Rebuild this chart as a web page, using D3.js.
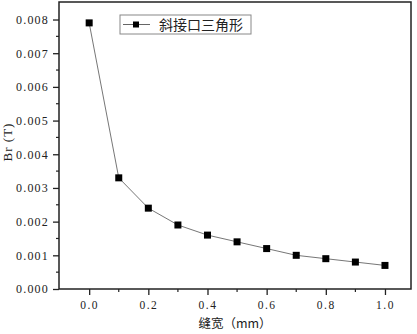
<!DOCTYPE html>
<html>
<head>
<meta charset="utf-8">
<script src="https://cdn.jsdelivr.net/npm/d3@7"></script>
<style>
  body { margin: 0; background: #fff; }
  svg text { fill: #222; }
  .tick text { font-family: "Liberation Serif", "DejaVu Serif", serif !important; }
</style>
</head>
<body>
<div id="chart"></div>
<script>
// data
var slotWidth = [0.0, 0.1, 0.2, 0.3, 0.4, 0.5, 0.6, 0.7, 0.8, 0.9, 1.0];
var brValues = [0.0079, 0.0033, 0.0024, 0.0019, 0.0016, 0.0014, 0.0012, 0.0010, 0.0009, 0.0008, 0.0007];
var seriesName = "斜接口三角形";
var xTicks = [0.0, 0.2, 0.4, 0.6, 0.8, 1.0];
var yTicks = [0.000, 0.001, 0.002, 0.003, 0.004, 0.005, 0.006, 0.007, 0.008];

function init() {
    var w = 417,
        h = 334;
    var left = 59, right = 411, top = 2, bottom = 289;

    var svg = d3
        .select("#chart")
        .append("svg")
        .attr("width", w)
        .attr("height", h);

    var data = slotWidth.map((x, i) => ({ x: x, y: brValues[i] }));

    var xScale = d3.scaleLinear().domain([-0.102, 1.088]).range([left, right]);
    var yScale = d3.scaleLinear().domain([0, 0.00852]).range([bottom, top]);

    var serif = "Liberation Serif, DejaVu Serif, serif";
    var cjk = "Noto Sans CJK SC, sans-serif";

    // x axis
    var xAxis = d3.axisBottom(xScale)
        .tickValues(xTicks)
        .tickSize(6)
        .tickPadding(6)
        .tickFormat(d3.format(".1f"));
    var gx = svg.append("g")
        .attr("transform", "translate(0," + bottom + ")")
        .call(xAxis)
        .attr("font-family", serif)
        .attr("font-size", 11.5);
    gx.select(".domain").remove();
    gx.selectAll("line").attr("stroke", "#222").attr("stroke-width", 1.3);
    gx.selectAll("text").style("letter-spacing", "1.5px");

    // x minor ticks
    svg.append("g")
        .selectAll("line")
        .data(d3.range(0.1, 1.05, 0.2))
        .enter()
        .append("line")
        .attr("x1", d => xScale(d))
        .attr("x2", d => xScale(d))
        .attr("y1", bottom)
        .attr("y2", bottom + 3)
        .attr("stroke", "#222")
        .attr("stroke-width", 1.2);

    // y axis
    var yAxis = d3.axisLeft(yScale)
        .tickValues(yTicks)
        .tickSize(6)
        .tickPadding(4)
        .tickFormat(d3.format(".3f"));
    var gy = svg.append("g")
        .attr("transform", "translate(" + left + ",0)")
        .call(yAxis)
        .attr("font-family", serif)
        .attr("font-size", 12);
    gy.select(".domain").remove();
    gy.selectAll("line").attr("stroke", "#222").attr("stroke-width", 1.3);
    gy.selectAll("text").style("letter-spacing", "1.2px");

    // y minor ticks
    svg.append("g")
        .selectAll("line")
        .data(d3.range(0.0005, 0.0085, 0.001))
        .enter()
        .append("line")
        .attr("x1", left)
        .attr("x2", left - 3)
        .attr("y1", d => yScale(d))
        .attr("y2", d => yScale(d))
        .attr("stroke", "#222")
        .attr("stroke-width", 1.2);

    // frame
    svg.append("rect")
        .attr("x", left)
        .attr("y", top)
        .attr("width", right - left)
        .attr("height", bottom - top)
        .attr("fill", "none")
        .attr("stroke", "#222")
        .attr("stroke-width", 1.5);

    // line
    var line = d3.line()
        .x(d => xScale(d.x))
        .y(d => yScale(d.y));

    svg.append("path")
        .datum(data)
        .attr("d", line)
        .attr("fill", "none")
        .attr("stroke", "#666")
        .attr("stroke-width", 0.9);

    // markers
    svg.append("g")
        .selectAll("rect")
        .data(data)
        .enter()
        .append("rect")
        .attr("x", d => xScale(d.x) - 3.5)
        .attr("y", d => yScale(d.y) - 3.5)
        .attr("width", 7)
        .attr("height", 7)
        .attr("fill", "#000");

    // legend
    var legend = svg.append("g").attr("transform", "translate(120,15)");
    legend.append("rect")
        .attr("width", 131)
        .attr("height", 19)
        .attr("fill", "#fff")
        .attr("stroke", "#888")
        .attr("stroke-width", 1);
    legend.append("line")
        .attr("x1", 3).attr("x2", 30)
        .attr("y1", 9.5).attr("y2", 9.5)
        .attr("stroke", "#666").attr("stroke-width", 1);
    legend.append("rect")
        .attr("x", 13).attr("y", 6.5)
        .attr("width", 6).attr("height", 6)
        .attr("fill", "#000");
    legend.append("text")
        .attr("x", 39)
        .attr("y", 14.5)
        .style("font-family", cjk)
        .style("font-size", "14px")
        .text(seriesName);

    // axis titles
    svg.append("text")
        .attr("x", 235)
        .attr("y", 328)
        .attr("text-anchor", "middle")
        .style("font-family", cjk)
        .style("font-size", "12.5px")
        .text("缝宽（mm）");

    svg.append("text")
        .attr("transform", "translate(12,142) rotate(-90)")
        .attr("text-anchor", "middle")
        .style("font-family", serif)
        .style("font-size", "13px")
        .style("letter-spacing", "1px")
        .text("Br (T)");
}

window.onload = init;
</script>
</body>
</html>
